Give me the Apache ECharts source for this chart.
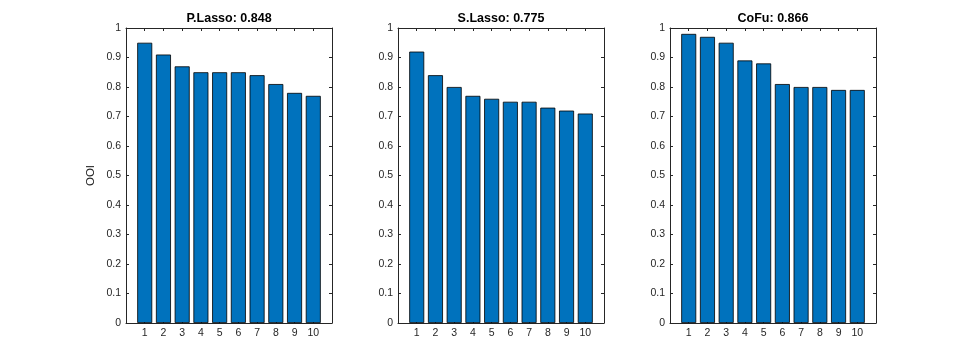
<!DOCTYPE html>
<html>
<head>
<meta charset="utf-8">
<script src="https://cdn.jsdelivr.net/npm/echarts@6/dist/echarts.min.js"></script>
<style>html,body{margin:0;padding:0;background:#fff;}#c{width:969px;height:364px;}</style>
</head>
<body>
<div id="c"></div>
<script>
const categories = [1, 2, 3, 4, 5, 6, 7, 8, 9, 10];
const pLasso = [0.95, 0.91, 0.87, 0.85, 0.85, 0.85, 0.84, 0.81, 0.78, 0.77];
const sLasso = [0.92, 0.84, 0.80, 0.77, 0.76, 0.75, 0.75, 0.73, 0.72, 0.71];
const coFu = [0.98, 0.97, 0.95, 0.89, 0.88, 0.81, 0.80, 0.80, 0.79, 0.79];
const titles = ['P.Lasso: 0.848', 'S.Lasso: 0.775', 'CoFu: 0.866'];
const yTicks = [0, 0.1, 0.2, 0.3, 0.4, 0.5, 0.6, 0.7, 0.8, 0.9, 1];
const yLabel = 'OOI';

const seriesData = [pLasso, sLasso, coFu];
const lefts = [126, 398, 670];
const FONT = 'Liberation Sans, Arial, Helvetica, sans-serif';
const AX = '#262626';

const grids = [], xAxes = [], yAxes = [], series = [];
seriesData.forEach((vals, i) => {
  grids.push({left: lefts[i], top: 28, width: 206, height: 295, containLabel: false});
  const tick = {show: true, inside: true, length: 3, lineStyle: {color: AX, width: 1}};
  xAxes.push({
    type: 'value', gridIndex: i, min: 0, max: 11, interval: 1, position: 'bottom',
    axisLine: {show: true, onZero: false, lineStyle: {color: AX, width: 1}},
    axisTick: tick,
    splitLine: {show: false},
    axisLabel: {color: AX, fontSize: 10.5, fontFamily: FONT, margin: 5,
      formatter: v => categories.indexOf(v) >= 0 ? String(v) : ''}
  });
  xAxes.push({
    type: 'value', gridIndex: i, min: 0, max: 11, interval: 1, position: 'top',
    axisLine: {show: true, onZero: false, lineStyle: {color: AX, width: 1}},
    axisTick: tick, splitLine: {show: false}, axisLabel: {show: false},
    name: titles[i], nameLocation: 'middle', nameGap: 3,
    nameTextStyle: {color: '#000', fontWeight: 'bold', fontSize: 12.5, fontFamily: FONT, verticalAlign: 'bottom'}
  });
  yAxes.push({
    type: 'value', gridIndex: i, min: 0, max: 1, interval: 0.1, position: 'left',
    axisLine: {show: true, onZero: false, lineStyle: {color: AX, width: 1}},
    axisTick: tick, splitLine: {show: false},
    axisLabel: {color: AX, fontSize: 10.5, fontFamily: FONT, margin: 5,
      formatter: v => { const r = Math.round(v * 10) / 10; return yTicks.indexOf(r) >= 0 ? String(r) : ''; }},
    name: i === 0 ? yLabel : '', nameLocation: 'middle', nameGap: 29, nameRotate: 90,
    nameTextStyle: {color: AX, fontSize: 11.5, fontFamily: FONT}
  });
  yAxes.push({
    type: 'value', gridIndex: i, min: 0, max: 1, interval: 0.1, position: 'right',
    axisLine: {show: true, onZero: false, lineStyle: {color: AX, width: 1}},
    axisTick: tick, splitLine: {show: false}, axisLabel: {show: false}
  });
  series.push({
    type: 'bar', xAxisIndex: i * 2, yAxisIndex: i * 2,
    data: categories.map((c, k) => [c, vals[k]]),
    barWidth: 15,
    itemStyle: {color: '#0072BD', borderColor: '#000', borderWidth: 0.8},
    silent: true, animation: false
  });
});

const chart = echarts.init(document.getElementById('c'), null, {renderer: 'canvas'});
chart.setOption({
  backgroundColor: '#fff',
  animation: false,
  grid: grids, xAxis: xAxes, yAxis: yAxes, series: series
});
</script>
</body>
</html>
